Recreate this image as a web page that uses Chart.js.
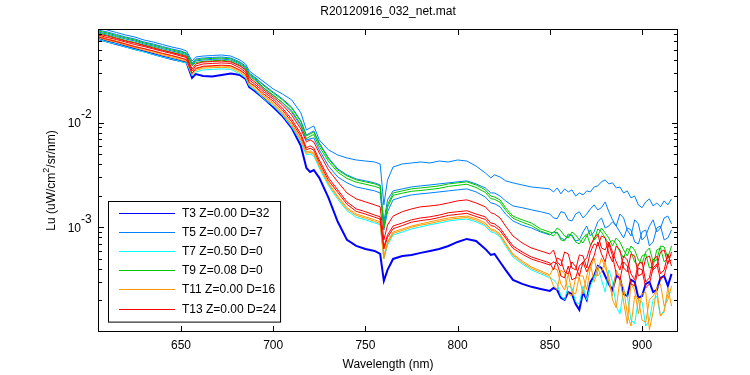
<!DOCTYPE html>
<html>
<head>
<meta charset="utf-8">
<script src="https://cdn.jsdelivr.net/npm/chart.js@4.4.1/dist/chart.umd.min.js"></script>
<style>
  html, body { margin: 0; padding: 0; background: #fff; }
  canvas { display: block; }
</style>
</head>
<body>
<canvas id="canvasOne" width="750" height="375"></canvas>
<script>
// wavelength grid (nm)
const wl = [605,610,615,620,625,630,635,640,645,650,
  653,656,658,662,667,672,677,682,685,687,690,695,
  700,705,710,715,718,720,722,725,730,735,740,745,750,755,758,760,762,765,
  770,775,780,785,790,795,800,805,810,815,
  818,820,823,826,830,835,840,845,850,
  852,854,856,858,860,862,864,866,868,870,872,874,876,878,880,882,884,886,888,890,892,894,896,898,900,902,904,906,908,910,912,914,916];

// Lu values, in units of 1e-3 uW/cm^2/sr/nm
const t3 = [63.0,59.6,56.4,53.4,50.6,48.0,45.3,42.8,40.6,38.8,
  37.6,26.8,29.1,27.9,27.6,28.5,29.5,28.5,26.2,21.9,20.1,16.9,
  14.1,11.6,8.91,6.0,3.69,3.38,3.53,2.97,1.91,1.13,0.758,0.664,0.622,0.595,0.557,0.308,0.392,0.499,
  0.533,0.545,0.570,0.595,0.622,0.664,0.725,0.775,0.741,0.622,
  0.545,0.557,0.467,0.392,0.315,0.288,0.270,0.258,0.247,
  0.264,0.252,0.212,0.203,0.241,0.231,0.185,0.163,0.241,0.203,0.301,0.343,0.427,0.409,0.343,0.288,0.252,0.343,0.329,0.231,0.221,0.315,0.301,0.212,0.221,0.288,0.301,0.241,0.252,0.329,0.343,0.276,0.359];

const t5a = [80.2,76.8,72.7,68.8,65.8,61.6,58.9,55.8,52.8,50.6,
  48.4,38.8,42.4,43.3,43.8,44.3,43.3,39.7,36.4,31.2,28.5,24.5,
  21.0,18.8,16.5,12.4,8.52,8.91,9.31,6.84,5.49,4.91,4.60,4.40,4.30,4.21,4.03,1.64,2.84,3.77,
  4.03,4.12,4.21,4.12,4.30,4.21,4.40,4.30,3.85,3.31,
  2.97,3.17,3.03,2.78,2.66,2.54,2.43,2.38,2.33,
  2.18,2.38,2.09,2.33,2.18,2.28,1.99,2.13,2.04,2.23,2.18,2.43,2.49,2.72,2.84,2.60,2.66,2.38,2.43,2.13,2.23,1.91,1.99,1.64,1.54,1.75,1.87,1.60,1.71,1.57,1.79,1.64,1.87];

const t5b = [76.8,73.5,69.6,65.8,63.0,58.9,56.4,53.4,50.6,48.4,
  46.3,37.2,40.6,41.5,42.0,42.4,41.5,38.0,34.8,29.8,27.3,22.9,
  19.6,16.9,14.1,10.4,7.63,7.98,8.33,6.40,4.60,3.61,3.17,2.90,2.78,2.66,2.54,1.13,1.83,2.23,
  2.33,2.43,2.49,2.54,2.60,2.66,2.72,2.78,2.60,2.38,
  2.13,2.13,1.99,1.79,1.60,1.54,1.47,1.41,1.34,
  1.23,1.21,1.41,1.38,1.18,1.15,1.34,1.41,1.23,1.34,1.50,1.64,1.47,1.54,1.75,1.41,1.18,1.03,1.34,1.23,0.944,0.827,1.18,1.08,0.758,0.827,1.03,1.18,0.903,0.986,1.23,1.28,1.08];

const t5c = [73.5,70.3,66.5,63.0,60.3,56.4,54.0,51.1,48.4,46.3,
  44.8,35.6,38.8,39.7,40.2,40.6,39.7,36.4,33.3,28.5,26.2,21.4,
  18.4,15.5,12.6,9.31,6.84,7.0,7.15,5.49,3.85,3.03,2.66,2.43,2.33,2.23,2.13,0.944,1.41,1.83,
  1.95,2.04,2.09,2.13,2.18,2.23,2.28,2.33,2.18,1.95,
  1.71,1.68,1.57,1.34,1.15,1.05,0.986,0.903,0.846,
  0.903,0.884,0.792,0.758,0.827,0.846,0.741,0.758,0.903,1.03,0.827,0.903,1.13,1.23,0.986,1.03,1.13,1.03,0.903,0.792,0.986,0.944,0.725,0.694,0.903,0.944,0.664,0.725,0.986,1.03,0.758,0.792,0.944];

const t7 = [63.0,59.0,56.4,52.8,50.0,47.4,44.9,42.4,40.5,38.4,
  37.2,27.9,30.5,31.9,32.3,32.6,32.3,29.2,26.7,22.4,20.5,16.8,
  14.5,11.8,9.1,6.55,4.91,5.03,4.80,3.69,2.49,1.86,1.44,1.25,1.18,1.10,1.06,0.50,0.68,0.845,
  0.903,0.965,1.01,1.06,1.10,1.15,1.18,1.20,1.13,1.03,
  0.903,0.884,0.81,0.664,0.521,0.447,0.392,0.359,0.329,
  0.315,0.288,0.221,0.203,0.276,0.264,0.194,0.185,0.276,0.203,0.276,0.329,0.427,0.315,0.241,0.392,0.301,0.177,0.149,0.252,0.221,0.130,0.120,0.203,0.194,0.114,0.130,0.203,0.221,0.142,0.163,0.231,0.241];

const t9a = [75.1,71.9,68.0,64.4,61.6,57.7,55.2,52.3,49.5,47.4,
  45.8,36.4,39.7,40.6,41.1,41.5,40.6,37.2,34.1,29.1,26.8,22.4,
  19.2,16.5,13.8,10.2,7.47,7.8,8.15,6.26,4.50,3.53,3.10,2.84,2.72,2.60,2.49,1.03,1.64,2.13,
  2.23,2.33,2.38,2.43,2.49,2.60,2.66,2.72,2.54,2.28,
  1.99,1.95,1.83,1.54,1.28,1.18,1.10,0.965,0.90,
  0.884,0.986,0.923,0.827,0.792,0.903,0.846,0.758,0.709,0.827,0.944,0.758,0.827,0.986,0.884,0.792,0.664,0.792,0.725,0.608,0.533,0.664,0.608,0.488,0.447,0.582,0.635,0.467,0.488,0.664,0.650,0.510,0.545];

const t9b = [72.0,68.5,64.8,61.0,58.4,55.0,52.6,49.6,47.0,45.2,
  43.5,35.0,37.6,38.5,39.0,39.5,38.6,35.4,32.3,27.6,25.5,21.2,
  18.2,15.6,13.0,9.6,7.05,7.4,7.7,5.9,4.25,3.36,2.93,2.70,2.58,2.46,2.37,0.98,1.55,2.02,
  2.12,2.21,2.25,2.30,2.36,2.46,2.52,2.58,2.40,2.16,
  1.88,1.85,1.74,1.46,1.22,1.12,1.04,0.92,0.86,
  0.827,0.903,0.758,0.741,0.865,0.827,0.725,0.694,0.792,0.865,0.679,0.758,0.965,0.903,0.792,0.694,0.758,0.694,0.582,0.510,0.635,0.582,0.467,0.427,0.533,0.557,0.409,0.427,0.608,0.635,0.467,0.510,0.664];

const t11a = [67.3,63.0,60.3,56.4,53.4,50.6,48.0,45.3,43.3,41.0,
  39.7,29.8,32.6,34.1,34.5,34.8,34.5,31.2,28.5,23.9,21.9,18.0,
  15.5,12.6,9.72,7.0,5.25,5.37,5.13,3.94,2.66,1.99,1.54,1.34,1.26,1.18,1.13,0.533,0.725,0.903,
  0.965,1.03,1.08,1.13,1.18,1.23,1.26,1.28,1.21,1.10,
  0.965,0.944,0.865,0.709,0.557,0.477,0.418,0.384,0.351,
  0.409,0.392,0.288,0.252,0.359,0.241,0.231,0.343,0.343,0.252,0.409,0.510,0.343,0.375,0.467,0.301,0.221,0.392,0.329,0.194,0.120,0.288,0.252,0.149,0.231,0.241,0.105,0.156,0.264,0.288,0.177,0.203,0.276];

const t11b = [65.5,61.0,58.6,55.0,52.0,49.2,46.8,44.0,42.2,39.8,
  38.5,28.8,31.6,33.2,33.5,33.8,33.4,30.2,27.6,23.1,21.2,17.4,
  15.0,12.2,9.4,6.8,5.1,5.2,4.98,3.82,2.58,1.93,1.49,1.30,1.22,1.14,1.09,0.50,0.70,0.875,
  0.935,1.0,1.05,1.09,1.14,1.19,1.22,1.24,1.17,1.06,
  0.935,0.915,0.84,0.69,0.54,0.462,0.405,0.372,0.34,
  0.276,0.252,0.392,0.359,0.231,0.221,0.329,0.329,0.231,0.343,0.447,0.301,0.375,0.510,0.409,0.343,0.203,0.170,0.315,0.264,0.149,0.114,0.221,0.212,0.130,0.124,0.203,0.221,0.252,0.142,0.156,0.264,0.177];

const t13a = [70.3,67.3,63.7,60.3,57.7,54.6,51.7,49.0,46.8,44.3,
  42.8,32.6,36.4,38.0,38.4,38.8,38.0,34.8,31.9,26.8,24.5,20.5,
  17.6,14.8,11.85,8.71,6.55,6.84,6.55,5.13,3.53,2.72,2.13,1.87,1.75,1.64,1.57,0.758,1.054,1.28,
  1.41,1.50,1.57,1.60,1.64,1.71,1.79,1.83,1.71,1.57,
  1.38,1.34,1.23,1.03,0.827,0.709,0.635,0.595,0.557,
  0.608,0.467,0.427,0.582,0.557,0.409,0.392,0.545,0.533,0.409,0.582,0.694,0.664,0.827,0.792,0.557,0.467,0.664,0.608,0.409,0.375,0.557,0.533,0.343,0.359,0.510,0.533,0.392,0.427,0.582,0.608,0.447,0.582];

const t13b = [68.8,65.1,62.3,58.9,55.8,53.4,50.6,48.0,45.8,43.3,
  41.9,31.2,34.8,36.4,36.8,37.2,36.8,33.3,30.5,25.6,23.4,19.6,
  16.9,13.8,10.8,7.80,5.74,6.0,5.74,4.40,2.97,2.28,1.75,1.50,1.41,1.31,1.26,0.650,0.846,1.03,
  1.10,1.18,1.23,1.26,1.31,1.38,1.41,1.44,1.34,1.26,
  1.10,1.08,0.986,0.827,0.664,0.582,0.521,0.488,0.457,
  0.392,0.510,0.488,0.375,0.359,0.467,0.420,0.343,0.467,0.510,0.664,0.792,0.865,0.635,0.608,0.725,0.582,0.467,0.392,0.533,0.488,0.359,0.315,0.447,0.467,0.301,0.329,0.488,0.533,0.359,0.392,0.557,0.427];

const t13c = [66.0,62.5,59.5,56.4,53.2,51.0,48.4,45.9,43.8,41.5,
  40.0,29.5,33.0,34.6,35.0,35.4,35.0,31.8,29.2,24.3,22.4,18.7,
  16.1,13.2,10.2,7.4,5.5,5.7,5.45,4.15,2.80,2.16,1.66,1.42,1.34,1.25,1.20,0.62,0.80,0.97,
  1.04,1.12,1.16,1.19,1.24,1.30,1.33,1.36,1.27,1.19,
  1.04,1.02,0.93,0.79,0.63,0.555,0.497,0.466,0.437,
  0.467,0.447,0.343,0.329,0.427,0.315,0.329,0.427,0.467,0.375,0.447,0.533,0.725,0.557,0.467,0.694,0.533,0.359,0.315,0.467,0.427,0.288,0.276,0.409,0.392,0.264,0.288,0.409,0.447,0.315,0.343,0.467,0.488];

const legendNames = ['T3 Z=0.00 D=32', 'T5 Z=0.00 D=7', 'T7 Z=0.50 D=0',
                     'T9 Z=0.08 D=0', 'T11 Z=0.00 D=16', 'T13 Z=0.00 D=24'];
const groups = [[t3], [t5a, t5b, t5c], [t7], [t9a, t9b], [t11a, t11b], [t13a, t13b, t13c]];
const lineColors = ['#0000ff', '#0080ff', '#00ffff', '#00c800', '#ff9900', '#ff0000'];
const lineWidths = [2, 1, 1, 1, 1, 1];

const xTicks = [650, 700, 750, 800, 850, 900];
const yTickExp = [-3, -2];
const titleText = 'R20120916_032_net.mat';
const xTitle = 'Wavelength (nm)';

const FONT = '12px "Liberation Sans", Arial, Helvetica, sans-serif';
const SUPFONT = '9px "Liberation Sans", Arial, Helvetica, sans-serif';

var datasets = [];
groups.forEach(function(list, g) {
  list.forEach(function(arr) {
    datasets.push({
      label: legendNames[g],
      data: wl.map(function(x, i) { return { x: x, y: arr[i] * 1e-3 }; }),
      borderColor: lineColors[g],
      borderWidth: lineWidths[g],
      pointRadius: 0,
      tension: 0,
      fill: false,
      order: groups.length - g   // later groups on top, like matlab
    });
  });
});

// matlab style box, ticks, labels, title and legend
const matlabAxes = {
  id: 'matlabAxes',
  beforeDraw(chart) {
    const ctx = chart.ctx;
    ctx.save();
    ctx.fillStyle = '#fff';
    ctx.fillRect(0, 0, chart.width, chart.height);
    ctx.restore();
  },
  afterDraw(chart) {
    const ctx = chart.ctx;
    const a = chart.chartArea;
    const xs = chart.scales.x, ys = chart.scales.y;
    ctx.save();
    ctx.strokeStyle = '#000';
    ctx.fillStyle = '#000';
    ctx.lineWidth = 1;

    ctx.strokeRect(a.left + 0.5, a.top + 0.5, a.right - a.left - 1, a.bottom - a.top - 1);

    ctx.beginPath();
    xTicks.forEach(function(v) {
      const px = Math.round(xs.getPixelForValue(v)) + 0.5;
      ctx.moveTo(px, a.bottom); ctx.lineTo(px, a.bottom - 6);
      ctx.moveTo(px, a.top); ctx.lineTo(px, a.top + 6);
    });
    for (let e = -4; e <= -2; e++) {
      for (let k = 1; k <= 9; k++) {
        const v = k * Math.pow(10, e);
        if (v <= ys.min * 1.0001 || v >= ys.max) continue;
        const py = Math.round(ys.getPixelForValue(v)) + 0.5;
        const len = k === 1 ? 6 : 4;
        ctx.moveTo(a.left, py); ctx.lineTo(a.left + len, py);
        ctx.moveTo(a.right, py); ctx.lineTo(a.right - len, py);
      }
    }
    ctx.stroke();

    ctx.font = FONT;
    ctx.textAlign = 'center';
    ctx.textBaseline = 'middle';
    xTicks.forEach(function(v) {
      ctx.fillText(String(v), xs.getPixelForValue(v), a.bottom + 14);
    });

    yTickExp.forEach(function(e) {
      const py = ys.getPixelForValue(Math.pow(10, e));
      ctx.textAlign = 'right';
      ctx.fillText('10', 81, py + 1);
      ctx.textAlign = 'left';
      ctx.fillText(String(e), 81, py - 8);
    });

    const cx = (a.left + a.right) / 2;
    ctx.textAlign = 'center';
    ctx.fillText(titleText, cx, 12);
    ctx.fillText(xTitle, cx, a.bottom + 33);

    // y label with superscript 2
    const p1 = 'Lu (uW/cm', p2 = '2', p3 = '/sr/nm)';
    const w1 = ctx.measureText(p1).width, w3 = ctx.measureText(p3).width;
    ctx.font = SUPFONT;
    const w2 = ctx.measureText(p2).width;
    const total = w1 + w2 + w3;
    ctx.save();
    ctx.translate(52, (a.top + a.bottom) / 2);
    ctx.rotate(-Math.PI / 2);
    ctx.textAlign = 'left';
    ctx.font = FONT;
    ctx.fillText(p1, -total / 2, 0);
    ctx.font = SUPFONT;
    ctx.fillText(p2, -total / 2 + w1, -5);
    ctx.font = FONT;
    ctx.fillText(p3, -total / 2 + w1 + w2, 0);
    ctx.restore();

    // legend
    ctx.font = FONT;
    let maxW = 0;
    legendNames.forEach(function(n) { maxW = Math.max(maxW, ctx.measureText(n).width); });
    const bx = 108, by = 201, rowH = 19.1;
    const bw = 74 + maxW + 4, bh = rowH * legendNames.length + 6;
    ctx.fillStyle = '#fff';
    ctx.fillRect(bx, by, bw, bh);
    ctx.strokeStyle = '#000';
    ctx.strokeRect(bx + 0.5, by + 0.5, bw, bh);
    legendNames.forEach(function(n, i) {
      const ry = Math.round(by + 12 + i * rowH);
      ctx.fillStyle = lineColors[i];
      ctx.fillRect(bx + 11, ry, 56, 1);
      ctx.fillStyle = '#000';
      ctx.textAlign = 'left';
      ctx.textBaseline = 'middle';
      ctx.fillText(n, bx + 74, ry + 1);
    });
    ctx.restore();
  }
};

var ctx = document.getElementById('canvasOne').getContext('2d');
var chart = new Chart(ctx, {
  type: 'line',
  data: { datasets: datasets },
  options: {
    responsive: false,
    animation: false,
    events: [],
    layout: { padding: { left: 98, top: 29, right: 72, bottom: 43 } },
    scales: {
      x: { type: 'linear', min: 605, max: 919.5, display: false },
      y: { type: 'logarithmic', min: 1e-4, max: 0.0785, display: false }
    },
    plugins: {
      legend: { display: false },
      tooltip: { enabled: false }
    }
  },
  plugins: [matlabAxes]
});
</script>
</body>
</html>
